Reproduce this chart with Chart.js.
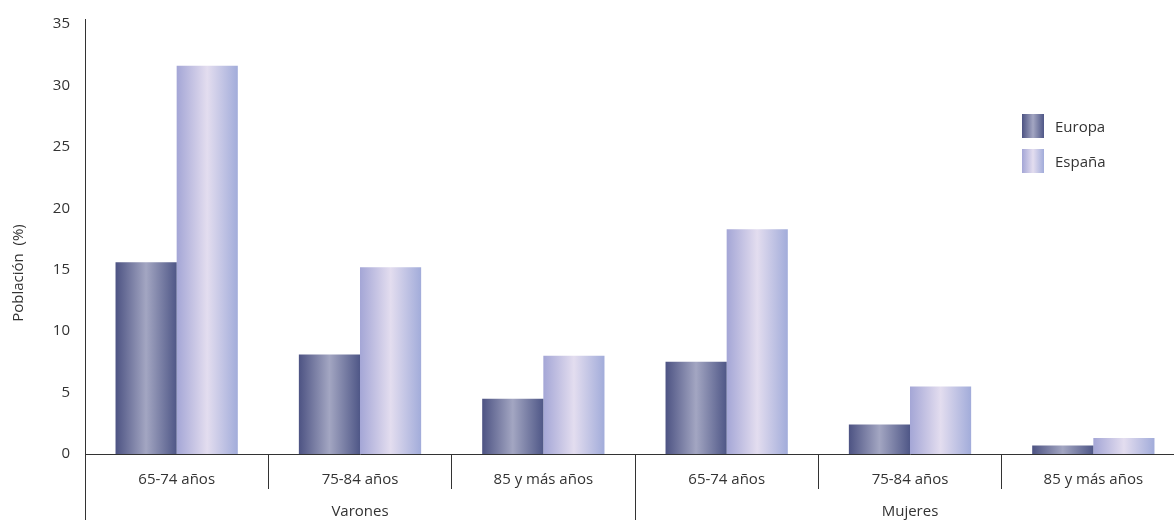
<!DOCTYPE html>
<html>
<head>
<meta charset="utf-8">
<script src="https://cdn.jsdelivr.net/npm/chart.js@4"></script>
<style>
  html, body { margin: 0; padding: 0; background: #fff; overflow: hidden; }
  #wrap { position: relative; width: 1174px; height: 520px; overflow: hidden; }
  #legend { position: absolute; left: 1022px; top: 114px; font-family: "Open Sans", sans-serif; font-size: 15px; color: #333; }
  #legend .item { display: flex; align-items: center; height: 24px; margin-bottom: 11px; }
  #legend .box { width: 22px; height: 24px; margin-right: 11px; }
</style>
</head>
<body>
<div id="wrap">
  <canvas id="chart" width="1186" height="520"></canvas>
  <div id="legend"></div>
</div>
<script>
// Data
const categories = ['65-74 años', '75-84 años', '85 y más años', '65-74 años', '75-84 años', '85 y más años'];
const groups = ['Varones', 'Mujeres'];
const europa = [15.6, 8.1, 4.5, 7.5, 2.4, 0.7];
const espana = [31.6, 15.2, 8.0, 18.3, 5.5, 1.3];
const yTicks = [0, 5, 10, 15, 20, 25, 30, 35];

// Gradient stops for each series (edge - middle - edge)
const europaStops = ['#4d5383', '#a3a6c2', '#4f5787'];
const espanaStops = ['#a4a6d6', '#e3ddef', '#a2acda'];

const FONT = '"Open Sans", sans-serif';
const TEXT = '#333';
const CAT_PCT = 0.667;

function barGradient(context, stops) {
  const chart = context.chart;
  const xScale = chart.scales.x;
  if (!xScale || context.dataIndex === undefined) return stops[0];
  const center = xScale.getPixelForValue(context.dataIndex);
  const catW = xScale.width / categories.length;
  const barW = catW * CAT_PCT / 2;
  const x0 = center + (context.datasetIndex - 1) * barW;
  if (!isFinite(x0) || !isFinite(barW) || barW <= 0) return stops[0];
  const g = chart.ctx.createLinearGradient(x0, 0, x0 + barW, 0);
  g.addColorStop(0, stops[0]);
  g.addColorStop(0.5, stops[1]);
  g.addColorStop(1, stops[2]);
  return g;
}

// Extra lines and group labels below the category axis
const groupAxisPlugin = {
  id: 'groupAxis',
  afterDraw(chart) {
    const { ctx, chartArea, scales } = chart;
    const x = scales.x;
    const catW = x.width / categories.length;
    const bottom = chart.height;
    ctx.save();
    ctx.strokeStyle = TEXT;
    ctx.lineWidth = 1;
    // y axis line running from top to bottom of the picture
    ctx.beginPath();
    ctx.moveTo(Math.round(chartArea.left) + 0.5, 19);
    ctx.lineTo(Math.round(chartArea.left) + 0.5, bottom);
    // divider between groups
    const per = categories.length / groups.length;
    for (let i = 1; i <= groups.length; i++) {
      const px = Math.round(x.left + i * per * catW) + 0.5;
      ctx.moveTo(px, chartArea.bottom);
      ctx.lineTo(px, bottom);
    }
    ctx.stroke();

    ctx.fillStyle = TEXT;
    ctx.font = '15px ' + FONT;
    ctx.textAlign = 'center';
    ctx.textBaseline = 'middle';
    groups.forEach((g, i) => {
      const cx = x.left + (i * per + per / 2) * catW;
      ctx.fillText(g, cx, 512);
    });

    // y axis title
    ctx.translate(19, 273);
    ctx.rotate(-Math.PI / 2);
    ctx.fillText('Población  (%)', 0, 0);
    ctx.restore();
  }
};

const chart = new Chart(document.getElementById('chart'), {
  type: 'bar',
  data: {
    labels: categories,
    datasets: [
      {
        label: 'Europa',
        data: europa,
        backgroundColor: ctx => barGradient(ctx, europaStops),
        borderWidth: 0
      },
      {
        label: 'España',
        data: espana,
        backgroundColor: ctx => barGradient(ctx, espanaStops),
        borderWidth: 0
      }
    ]
  },
  options: {
    responsive: false,
    animation: false,
    devicePixelRatio: 1,
    layout: { padding: { top: 24, right: 1, bottom: 0, left: 0 } },
    plugins: {
      legend: { display: false },
      tooltip: { enabled: false }
    },
    datasets: {
      bar: { categoryPercentage: CAT_PCT, barPercentage: 1 }
    },
    scales: {
      x: {
        offset: true,
        grid: {
          display: true,
          offset: true,
          drawOnChartArea: false,
          drawTicks: true,
          tickLength: 35,
          color: c => (c.index === 0 ? 'rgba(0,0,0,0)' : TEXT),
          lineWidth: 1
        },
        border: { display: true, color: TEXT, width: 1 },
        ticks: {
          color: TEXT,
          font: { family: FONT, size: 15 },
          padding: -18,
          maxRotation: 0,
          autoSkip: false
        },
        afterFit: s => { s.height = 66; }
      },
      y: {
        min: 0,
        max: 35,
        afterBuildTicks: s => { s.ticks = yTicks.map(v => ({ value: v })); },
        grid: { display: false, drawTicks: false },
        border: { display: false },
        ticks: {
          color: TEXT,
          font: { family: FONT, size: 15 },
          padding: 15
        },
        afterFit: s => { s.width = 85; }
      }
    }
  },
  plugins: [groupAxisPlugin]
});

// HTML legend built from the datasets
const legendEl = document.getElementById('legend');
[[ 'Europa', europaStops ], [ 'España', espanaStops ]].forEach(([name, stops]) => {
  const item = document.createElement('div');
  item.className = 'item';
  const box = document.createElement('span');
  box.className = 'box';
  box.style.background = `linear-gradient(to right, ${stops[0]}, ${stops[1]}, ${stops[2]})`;
  const label = document.createElement('span');
  label.textContent = name;
  item.appendChild(box);
  item.appendChild(label);
  legendEl.appendChild(item);
});
</script>
</body>
</html>
